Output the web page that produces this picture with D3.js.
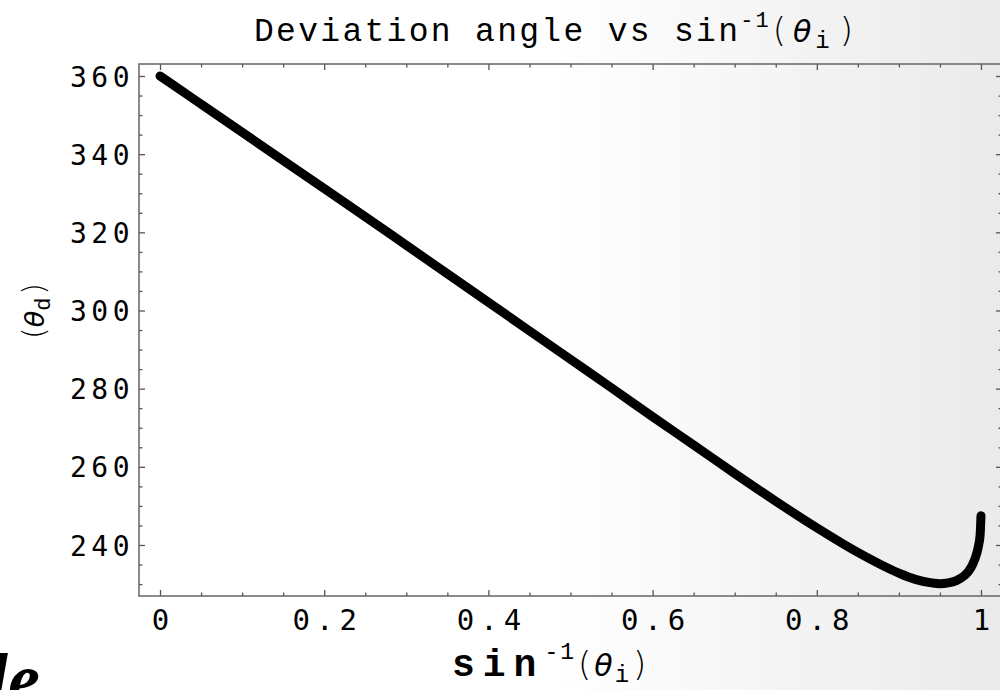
<!DOCTYPE html>
<html>
<head>
<meta charset="utf-8">
<script src="https://cdn.jsdelivr.net/npm/d3@7"></script>
<style>
  html, body { margin: 0; padding: 0; background: #fff; }
  svg { display: block; }
</style>
</head>
<body>
<svg id="chart" width="1000" height="690"></svg>
<script>
// Incidence parameter (x) and deviation angle in degrees (y)
const xValues = [0, 0.05, 0.1, 0.15, 0.2, 0.25, 0.3, 0.35, 0.4, 0.45, 0.5, 0.55, 0.6, 0.65, 0.7, 0.75,
                 0.8, 0.85, 0.9, 0.92, 0.94, 0.95, 0.96, 0.97, 0.98, 0.985, 0.99, 0.995, 0.997, 0.999, 1];
const deviation = [360, 352.8, 345.6, 338.4, 331.2, 324.0, 316.7, 309.4, 302.1, 294.8, 287.5, 280.2, 272.8,
                   265.6, 258.3, 251.2, 244.4, 238.1, 232.8, 231.2, 230.3, 230.1, 230.3, 230.9, 232.2,
                   233.3, 235.1, 238.0, 239.8, 242.7, 247.5];
const xTickValues = [0, 0.2, 0.4, 0.6, 0.8, 1];
const xTickLabels = ["0", "0.2", "0.4", "0.6", "0.8", "1"];
const yTickValues = [240, 260, 280, 300, 320, 340, 360];

const svg = d3.select("#chart");
const W = 1000, H = 690;

// soft grey fade towards the right edge
const defs = svg.append("defs");
const grad = defs.append("linearGradient").attr("id", "bg").attr("x1", 0).attr("x2", 1).attr("y1", 0).attr("y2", 0);
grad.append("stop").attr("offset", "0.55").attr("stop-color", "#ffffff");
grad.append("stop").attr("offset", "1").attr("stop-color", "#eaeaea");
svg.append("rect").attr("width", W).attr("height", H).attr("fill", "url(#bg)");

const frame = { left: 139, right: 1002, top: 64, bottom: 596 };
const x = d3.scaleLinear().domain([-0.0256, 1.0256]).range([frame.left, frame.right]);
const y = d3.scaleLinear().domain([226.95, 363.07]).range([frame.bottom, frame.top]);

const tickColor = "#555";
const minorX = d3.range(0, 1.0001, 0.05).filter(v => Math.abs(v * 5 - Math.round(v * 5)) > 1e-6);
const minorY = d3.range(230, 361, 5).filter(v => v % 20 !== 0);
const tickFont = "'DejaVu Sans Mono', monospace";

function styleAxis(g) {
  g.select(".domain").remove();
  g.selectAll(".tick line").attr("stroke", tickColor).attr("stroke-width", 1.3);
}

// bottom axis: inward ticks and labels
const gx = svg.append("g").attr("transform", `translate(0,${frame.bottom})`)
  .call(d3.axisBottom(x).tickValues(xTickValues).tickSize(-6).tickPadding(12)
    .tickFormat((d, i) => xTickLabels[i]));
styleAxis(gx);
gx.selectAll("text")
  .attr("font-family", tickFont)
  .attr("font-size", 29).attr("fill", "#000")
  .attr("letter-spacing", 6).attr("dx", 3).attr("dy", "0.75em");

svg.append("g").attr("transform", `translate(0,${frame.bottom})`)
  .call(d3.axisBottom(x).tickValues(minorX).tickSize(-3.5).tickFormat(""))
  .call(styleAxis);

// top mirror ticks
svg.append("g").attr("transform", `translate(0,${frame.top})`)
  .call(d3.axisTop(x).tickValues(xTickValues).tickSize(-6).tickFormat(""))
  .call(styleAxis);
svg.append("g").attr("transform", `translate(0,${frame.top})`)
  .call(d3.axisTop(x).tickValues(minorX).tickSize(-3.5).tickFormat(""))
  .call(styleAxis);

// left axis
const gy = svg.append("g").attr("transform", `translate(${frame.left},0)`)
  .call(d3.axisLeft(y).tickValues(yTickValues).tickSize(-6).tickPadding(5));
styleAxis(gy);
gy.selectAll("text")
  .attr("font-family", tickFont)
  .attr("font-size", 28).attr("fill", "#000")
  .attr("letter-spacing", 4.5).attr("dy", "0.36em");

svg.append("g").attr("transform", `translate(${frame.left},0)`)
  .call(d3.axisLeft(y).tickValues(minorY).tickSize(-3.5).tickFormat(""))
  .call(styleAxis);

// right mirror ticks
svg.append("g").attr("transform", `translate(${frame.right},0)`)
  .call(d3.axisRight(y).tickValues(yTickValues).tickSize(-6).tickFormat(""))
  .call(styleAxis);
svg.append("g").attr("transform", `translate(${frame.right},0)`)
  .call(d3.axisRight(y).tickValues(minorY).tickSize(-3.5).tickFormat(""))
  .call(styleAxis);

// frame
svg.append("rect")
  .attr("x", frame.left).attr("y", frame.top)
  .attr("width", frame.right - frame.left).attr("height", frame.bottom - frame.top)
  .attr("fill", "none").attr("stroke", "#666").attr("stroke-width", 1.5);

// deviation curve
const pts = xValues.map((v, i) => [v, deviation[i]]);
const line = d3.line().x(d => x(d[0])).y(d => y(d[1])).curve(d3.curveMonotoneX);
svg.append("path").datum(pts)
  .attr("d", line)
  .attr("fill", "none").attr("stroke", "#000").attr("stroke-width", 9)
  .attr("stroke-linecap", "round").attr("stroke-linejoin", "round");

// title
const title = svg.append("text").attr("x", 254).attr("y", 41)
  .attr("font-family", "'Liberation Mono', monospace").attr("font-size", 33)
  .attr("letter-spacing", 2.3).attr("fill", "#000");
title.append("tspan").text("Deviation angle vs sin");
title.append("tspan").attr("font-size", 22).attr("dy", -14).attr("letter-spacing", 2).text("-1");
title.append("tspan").attr("font-family", "'DejaVu Sans', sans-serif").attr("font-weight", 200)
  .attr("font-size", 34).attr("dy", 15).attr("dx", 2).attr("letter-spacing", 7).text("(");
title.append("tspan").attr("font-family", "'DejaVu Sans', sans-serif").attr("font-style", "italic")
  .attr("font-weight", 300).attr("font-size", 30).attr("letter-spacing", 4).text("θ");
title.append("tspan").attr("font-size", 24).attr("dy", 6).attr("letter-spacing", 10).text("i");
title.append("tspan").attr("font-family", "'DejaVu Sans', sans-serif").attr("font-weight", 200)
  .attr("font-size", 34).attr("dy", -6).text(")");

// x-axis label
const xl = svg.append("text").attr("x", 452).attr("y", 676)
  .attr("font-family", "'Liberation Mono', monospace").attr("font-size", 38)
  .attr("font-weight", "bold").attr("letter-spacing", 8).attr("fill", "#000");
xl.append("tspan").text("sin");
xl.append("tspan").attr("font-size", 23).attr("font-weight", "normal").attr("letter-spacing", 2)
  .attr("dy", -17).text("-1");
xl.append("tspan").attr("font-family", "'DejaVu Sans', sans-serif").attr("font-weight", 200)
  .attr("font-size", 34).attr("dy", 17).attr("dx", 2).attr("letter-spacing", 3).text("(");
xl.append("tspan").attr("font-family", "'DejaVu Sans', sans-serif").attr("font-style", "italic")
  .attr("font-weight", 300).attr("font-size", 30).attr("letter-spacing", 2).text("θ");
xl.append("tspan").attr("font-size", 24).attr("font-weight", "normal").attr("letter-spacing", 4)
  .attr("dy", 6).text("i");
xl.append("tspan").attr("font-family", "'DejaVu Sans', sans-serif").attr("font-weight", 200)
  .attr("font-size", 34).attr("dy", -6).text(")");

// y-axis label
const yl = svg.append("text").attr("transform", "translate(44,311) rotate(-90)")
  .attr("text-anchor", "middle").attr("fill", "#000")
  .attr("font-family", "'DejaVu Sans', sans-serif").attr("font-size", 30).attr("font-weight", 200);
yl.append("tspan").text("(");
yl.append("tspan").attr("font-style", "italic").attr("font-weight", 300).attr("font-size", 27).text("θ");
yl.append("tspan").attr("font-family", "'Liberation Mono', monospace").attr("font-weight", "normal")
  .attr("font-size", 22).attr("dy", 6).text("d");
yl.append("tspan").attr("dy", -6).attr("dx", 3).text(")");

// heading fragment at the lower-left corner
svg.append("text").attr("x", -12).attr("y", 703)
  .attr("font-family", "'Liberation Serif', serif").attr("font-style", "italic").attr("font-weight", "bold")
  .attr("font-size", 72).attr("fill", "#000").text("le");
</script>
</body>
</html>
